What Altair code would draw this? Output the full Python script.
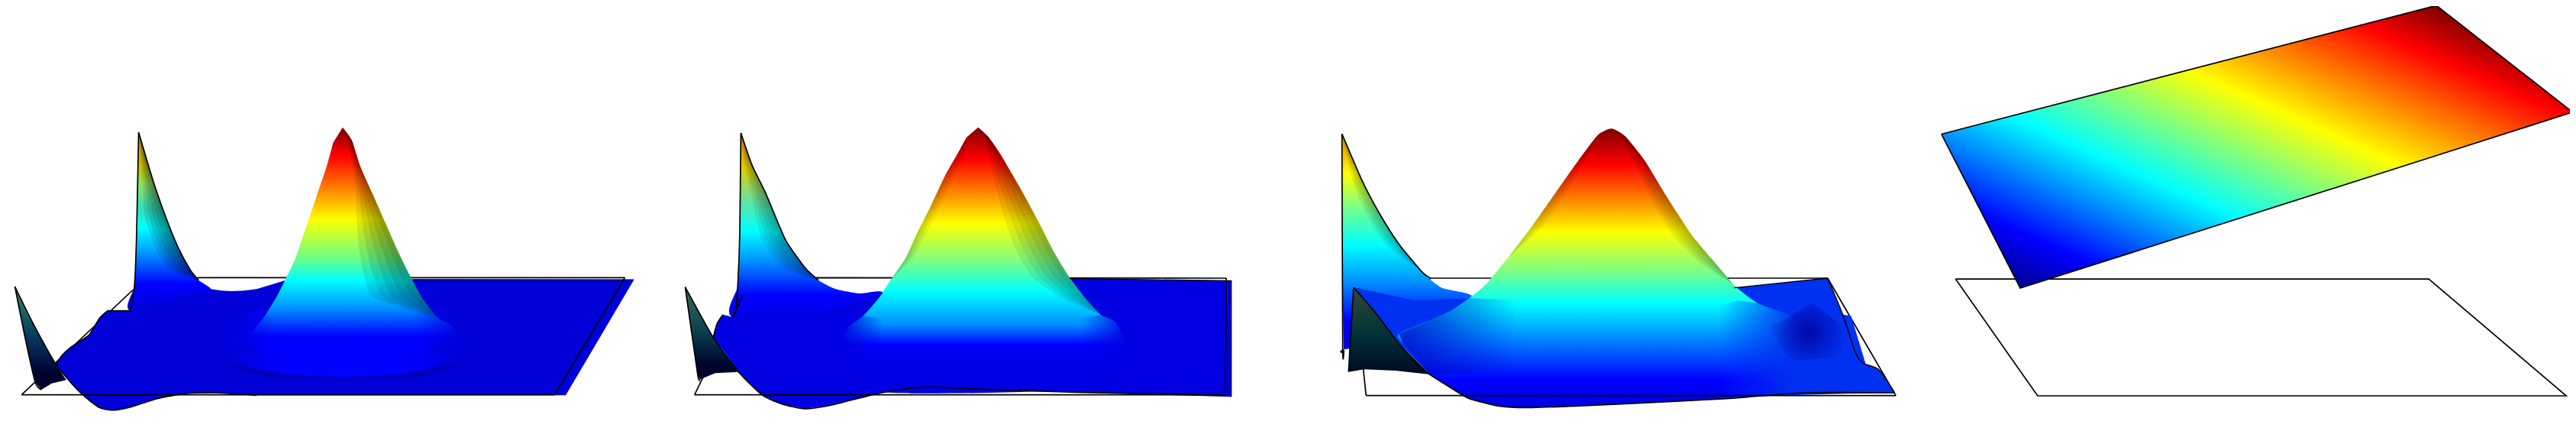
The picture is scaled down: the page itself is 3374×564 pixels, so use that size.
import altair as alt
import pandas as pd

# ---- readings from the picture: (x, y) in each panel's reading frame ----
FRAMES = {1: (0, 1.845, 140, 3.0), 2: (850, 1.96, 140, 3.0), 3: (1700, 1.96, 140, 3.0), 4: (2500, 1.794, 0, 2.78)}

# Panel 1
P1_FRAME_BACK = [(52,1130),(320,720),(480,670),(1510,670)]
P1_FRAME_FRONT = [(1510,670),(1340,1130),(52,1130)]
P1_BACK = [(335,100),(370,290),(400,430),(430,550),(460,640),(480,680),(510,715),(520,800),(315,800),(325,700),(330,500)]
P1_SHEET = [(260,800),(315,800),(450,740),(510,715),(535,721),(560,723),(590,721),(620,715),(660,695),(690,680),(1000,676),(1532,678),(1367,1132),(620,1132),(570,1126),(520,1122),(450,1125),(410,1134),(380,1145),(345,1165),(310,1180),(270,1190),(240,1180),(218,1158),(200,1130),(170,1080),(135,1010),(150,975),(170,945),(215,895),(240,830)]
P1_WEDGE = [(36,705),(80,850),(135,1010),(160,1072),(125,1085),(100,1110),(85,1080),(60,900)]
P1_RING = [(500,990),(650,1010),(830,1015),(1000,1010),(1150,990),(1000,1070),(830,1085),(650,1070)]
P1_SKIRT = [(830,760),(1050,800),(1150,920),(1040,1030),(830,1060),(620,1030),(510,920),(620,800)]
P1_MAIN = [(828,80),(850,130),(870,230),(900,340),(930,450),(960,560),(990,660),(1020,750),(1060,830),(1090,855),(1100,900),(1000,965),(830,995),(650,960),(570,920),(610,880),(640,820),(670,740),(695,660),(715,590),(740,470),(765,350),(790,230),(805,140)]
P1_MAIN_EDGE = [(828,80),(850,130),(870,230),(900,340),(930,450),(960,560),(990,660),(1020,750),(1060,830)]
P1_MAIN_INNER = [(828,80),(840,130),(852,230),(860,340),(862,450),(868,560),(880,660),(905,750),(1060,830)]
P1_BACK_EDGE = [(335,100),(370,290),(400,430),(430,550),(460,640),(480,680)]
P1_BACK_INNER = [(335,100),(345,290),(350,430),(375,550),(410,640),(480,680)]
P1_FADE_L = [(500,1000),(500,880),(640,820),(660,830),(660,1000)]
P1_FADE_R = [(1170,980),(1170,860),(1060,830),(1020,800),(1000,800),(1000,980)]
P1_OUT_A = [(335,100),(370,290),(400,430),(430,550),(460,640),(480,680)]
P1_OUT_B = [(335,100),(330,500),(325,700),(315,800)]
P1_OUT_C = [(36,705),(80,850),(135,1010),(170,1080),(200,1130),(240,1180),(270,1190),(310,1180),(380,1145),(450,1125),(520,1122),(620,1132)]
P1_OUT_D = [(36,705),(60,900),(85,1080),(100,1110)]
P1_OUT_E = [(260,800),(240,830),(215,895),(170,945),(150,975),(135,1010)]
P1_OUT_E2 = [(315,800),(260,800)]
P1_OUT_F = [(1000,678),(1532,678)]

# Panel 2
P2_FRAME_BACK = [(117,1130),(240,740),(430,670),(1482,672)]
P2_FRAME_FRONT = [(1482,672),(1480,1130),(117,1130)]
P2_BACK = [(236,102),(265,230),(300,340),(350,520),(400,630),(435,680),(480,715),(540,732),(600,727),(620,830),(222,830),(228,700),(233,500)]
P2_SHEET = [(190,815),(215,825),(400,830),(600,727),(1080,672),(1495,682),(1495,1138),(1100,1120),(860,1108),(720,1100),(640,1110),(600,1122),(560,1135),(510,1155),(470,1170),(400,1185),(340,1165),(290,1130),(260,1085),(230,1040),(195,965),(165,905),(175,850)]
P2_WEDGE = [(93,707),(165,905),(230,1040),(170,1045),(130,1070),(125,1050)]
P2_MAIN = [(845,80),(870,115),(900,180),(950,310),(1000,450),(1040,570),(1080,670),(1120,750),(1160,815),(1200,850),(1230,1000),(1100,1108),(600,1120),(480,1000),(510,870),(550,820),(590,750),(620,680),(660,590),(690,490),(720,400),(760,270),(790,190),(815,120)]
P2_MAIN_EDGE = [(845,80),(870,115),(900,180),(950,310),(1000,450),(1040,570),(1080,670),(1120,750),(1160,815)]
P2_MAIN_INNER = [(845,80),(860,115),(870,180),(890,310),(915,450),(945,570),(985,670),(1060,750),(1160,815)]
P2_BACK_EDGE = [(236,102),(265,230),(300,340),(350,520),(400,630),(435,680)]
P2_BACK_INNER = [(236,102),(245,230),(262,340),(290,520),(340,630),(435,680)]
P2_LEFT_EDGE = [(815,120),(790,190),(760,270),(720,400),(690,490),(660,590),(620,680)]
P2_LEFT_INNER = [(815,120),(812,190),(785,270),(745,400),(715,490),(680,590),(620,680)]
P2_FADE_L = [(420,1110),(420,880),(550,820),(600,830),(600,1110)]
P2_FADE_R = [(1310,1110),(1310,880),(1160,815),(1110,830),(1110,1110)]
P2_OUT_A = [(236,102),(265,230),(300,340),(350,520),(400,630),(435,680)]
P2_OUT_B = [(236,102),(233,500),(228,700),(222,800),(215,825)]
P2_OUT_C = [(93,707),(165,905),(230,1040),(290,1130),(340,1165),(400,1185),(470,1170),(560,1135),(640,1110),(720,1100),(860,1108),(1100,1120),(1480,1132)]
P2_OUT_D = [(93,707),(125,1050),(130,1070)]
P2_OUT_E = [(240,740),(215,825)]
P2_OUT_F = [(190,815),(175,850),(165,905)]
P2_OUT_G = [(1080,674),(1495,682),(1495,1138)]

# Panel 3
P3_FRAME_BACK = [(175,1133),(168,1030),(340,672),(1360,672)]
P3_FRAME_FRONT = [(1535,1133),(175,1133)]
P3_FRAME_SIDE = [(1360,672),(1535,1133)]
P3_BACK = [(113,105),(165,290),(210,420),(260,540),(320,650),(370,710),(450,745),(460,900),(125,950),(118,955),(115,700)]
P3_SHEET = [(143,708),(300,760),(1120,710),(1360,672),(1400,820),(1430,960),(1450,1005),(1490,1030),(1532,1122),(1300,1122),(1100,1145),(800,1168),(600,1180),(520,1175),(440,1145),(390,1100),(340,1050),(260,930),(200,810)]
P3_WEDGE = [(143,708),(200,810),(260,930),(340,1050),(250,1035),(170,1030),(130,1040),(135,910)]
P3_MAIN = [(1300,1122),(800,1168),(600,1180),(520,1175),(440,1145),(390,1100),(340,1050),(270,930),(260,890),(380,810),(440,750),(480,700),(540,590),(600,470),(660,340),(720,210),(770,110),(805,85),(840,115),(890,210),(950,360),(1010,500),(1070,610),(1120,700),(1180,770),(1280,830),(1420,1000)]
P3_MAIN_EDGE = [(805,85),(840,115),(890,210),(950,360),(1010,500),(1070,610),(1120,700)]
P3_MAIN_INNER = [(805,85),(830,115),(860,210),(905,360),(960,500),(1030,610),(1120,700)]
P3_BACK_EDGE = [(113,105),(165,290),(210,420),(260,540),(320,650)]
P3_BACK_INNER = [(113,105),(140,290),(175,420),(225,540),(320,650)]
P3_LEFT_EDGE = [(770,110),(720,210),(660,340),(600,470),(540,590)]
P3_LEFT_INNER = [(770,110),(740,210),(690,340),(630,470),(540,590)]
P3_FADE_R = [(1480,1122),(1420,820),(1180,770),(1130,760),(1080,780),(1080,1140)]
P3_FADE_L = [(270,930),(260,890),(380,810),(440,750),(560,760),(560,1040),(340,1050)]
P3_DARK = [(1320,770),(1395,860),(1405,970),(1270,990),(1210,870)]
P3_OUT_A = [(113,105),(165,290),(210,420),(260,540),(320,650),(340,672)]
P3_OUT_B = [(113,105),(115,950),(118,955)]
P3_OUT_C = [(143,708),(200,810),(260,930),(320,1030),(390,1100),(440,1145),(520,1175),(600,1180),(800,1168),(1100,1145),(1300,1122),(1532,1122)]
P3_OUT_D = [(143,708),(135,910),(130,1040)]
P3_OUT_E = [(1120,710),(1360,672)]
P3_OUT_E2 = [(1360,672),(1400,820),(1430,960),(1450,1005),(1490,1030),(1532,1122)]

# Panel 4
P4_FRAME = [(110,1015),(1222,1015),(1545,1440),(303,1440),(110,1015)]
P4_PLANE = [(77,488),(1240,20),(1560,408),(262,1048)]
P4_OUT = [(77,488),(1240,20),(1560,408),(262,1048),(77,488)]
P4_STOPS = [(0.0625,"#000090"),(0.16,"#0000ff"),(0.36,"#00ffff"),(0.58,"#ffff00"),(0.80,"#ff0000"),(0.89,"#800000")]

# colours read against the same y frame as each panel
P1_MAIN_COL = [(80,"#800000"),(190,"#ff0000"),(320,"#ff8000"),(440,"#ffff00"),(590,"#70ff80"),(680,"#00ffff"),(790,"#0090ff"),(900,"#0000ff"),(990,"rgba(0,0,255,0)")]
P1_BACK_COL = [(100,"#e08000"),(230,"#c8c000"),(300,"#90e060"),(400,"#30e0c0"),(470,"#00ffff"),(560,"#00a0ff"),(690,"#0000ff"),(800,"#0000d8")]
P1_WEDGE_COL = [(705,"#3c8a60"),(900,"#063a60"),(1050,"#000030"),(1110,"#000020")]
P2_MAIN_COL = [(80,"#800000"),(205,"#ff0000"),(330,"#ff8000"),(455,"#ffff00"),(600,"#80ff80"),(720,"#00ffff"),(850,"#0090ff"),(930,"#0000ff"),(1000,"#0000e8"),(1120,"#0000e0")]
P2_BACK_COL = [(102,"#e08000"),(240,"#e0d000"),(350,"#70e090"),(480,"#00ffff"),(600,"#0090ff"),(730,"#0000ff"),(830,"#0000e0")]
P2_WEDGE_COL = [(707,"#3c7058"),(880,"#0a4050"),(1000,"#000830"),(1070,"#000020")]
P3_MAIN_COL = [(85,"#800000"),(225,"#ff0000"),(360,"#ff8000"),(490,"#ffff00"),(640,"#80ff80"),(770,"#00ffff"),(900,"#0090ff"),(1070,"#0000ff"),(1180,"#0000e0")]
P3_BACK_COL = [(105,"#e08000"),(260,"#ffff00"),(400,"#70ff90"),(535,"#00ffff"),(680,"#0090ff"),(830,"#0000ff"),(950,"#0000d0")]
P3_WEDGE_COL = [(708,"#304a38"),(900,"#003038"),(1040,"#000c20")]
SHEET_P1 = "#0000d8"
SHEET_P2 = "#0000e0"
SHEET_P3 = "#0030f0"

W, H = 3358, 540
X = alt.X("x:Q", axis=None, scale=alt.Scale(domain=[8, 8 + W], nice=False, zero=False))
Y = alt.Y("y:Q", axis=None, scale=alt.Scale(domain=[8 + H, 8], nice=False, zero=False))


def frame(panel, pts):
    ox, sx, oy, sy = FRAMES[panel]
    return pd.DataFrame({"x": [ox + p[0] / sx for p in pts], "y": [oy + p[1] / sy for p in pts], "i": list(range(len(pts)))})


def vstops(pts, cols):
    lo, hi = min(p[1] for p in pts), max(p[1] for p in pts)
    out = [alt.GradientStop(offset=max(0.0, min(1.0, (yy - lo) / (hi - lo))), color=c) for yy, c in cols]
    return alt.LinearGradient(gradient="linear", x1=0, y1=0, x2=0, y2=1, stops=out)


def poly(panel, pts, paint, interp="cardinal"):
    return alt.Chart(frame(panel, pts)).mark_line(fill=paint, strokeWidth=0, strokeOpacity=0, interpolate=interp, tension=0.4).encode(X, Y, order="i:Q")


def stroke(panel, pts, w=1.7):
    return alt.Chart(frame(panel, pts)).mark_line(color="black", strokeWidth=w, interpolate="cardinal", tension=0.4).encode(X, Y, order="i:Q")


def straight(panel, pts, w=1.7):
    return alt.Chart(frame(panel, pts)).mark_line(color="black", strokeWidth=w, interpolate="linear").encode(X, Y, order="i:Q")


def facets(panel, edge, inner, alpha=0.09, n=5):
    """Nested strips between a flank outline and the line where its shading begins."""
    out = []
    for k in range(n):
        f = k / n
        back = [(a[0] * (1 - f) + b[0] * f, a[1] * (1 - f) + b[1] * f) for a, b in zip(inner, edge)]
        out.append(poly(panel, list(edge) + back[::-1], f"rgba(0,0,0,{alpha})"))
    return out


def hfade(color_rgb, to_right=True, a=1.0, hold=0.35):
    solid = f"rgba({color_rgb},{a})"
    clear = f"rgba({color_rgb},0)"
    if to_right:
        stops = [alt.GradientStop(offset=0, color=clear), alt.GradientStop(offset=1 - hold, color=solid), alt.GradientStop(offset=1, color=solid)]
    else:
        stops = [alt.GradientStop(offset=0, color=solid), alt.GradientStop(offset=hold, color=solid), alt.GradientStop(offset=1, color=clear)]
    return alt.LinearGradient(gradient="linear", x1=0, y1=0, x2=1, y2=0, stops=stops)


ring = alt.LinearGradient(gradient="linear", x1=0, y1=0, x2=0, y2=1, stops=[
    alt.GradientStop(offset=0.0, color="rgba(0,0,40,0)"),
    alt.GradientStop(offset=0.5, color="rgba(0,0,40,0.18)"),
    alt.GradientStop(offset=1.0, color="rgba(0,0,40,0)")])
skirt = alt.RadialGradient(gradient="radial", x1=0.5, y1=0.5, x2=0.5, y2=0.5, r1=0.0, r2=0.5, stops=[
    alt.GradientStop(offset=0.5, color="rgba(0,0,255,1)"),
    alt.GradientStop(offset=1.0, color="rgba(0,0,255,0)")])
dark_spot = alt.RadialGradient(gradient="radial", x1=0.5, y1=0.5, x2=0.5, y2=0.5, r1=0.0, r2=0.5, stops=[
    alt.GradientStop(offset=0.0, color="rgba(0,0,150,0.8)"),
    alt.GradientStop(offset=1.0, color="rgba(0,0,150,0)")])
plane_fill = alt.LinearGradient(gradient="linear", x1=0, y1=1, x2=1, y2=0,
                                stops=[alt.GradientStop(offset=o, color=c) for o, c in P4_STOPS])

layers = [
    # panel 1
    straight(1, P1_FRAME_BACK),
    poly(1, P1_BACK, vstops(P1_BACK, P1_BACK_COL)),
    *facets(1, P1_BACK_EDGE, P1_BACK_INNER, 0.1),
    poly(1, P1_SHEET, SHEET_P1, "linear"),
    poly(1, P1_WEDGE, vstops(P1_WEDGE, P1_WEDGE_COL), "linear"),
    poly(1, P1_RING, ring),
    poly(1, P1_SKIRT, skirt),
    poly(1, P1_MAIN, vstops(P1_MAIN, P1_MAIN_COL)),
    *facets(1, P1_MAIN_EDGE, P1_MAIN_INNER, 0.09),
    poly(1, P1_FADE_L, hfade("0,0,216", False, 0.8), "linear"),
    poly(1, P1_FADE_R, hfade("0,0,216", True, 0.8), "linear"),
    straight(1, P1_FRAME_FRONT),
    stroke(1, P1_OUT_A), stroke(1, P1_OUT_B), stroke(1, P1_OUT_C), stroke(1, P1_OUT_D),
    stroke(1, P1_OUT_E), straight(1, P1_OUT_E2), straight(1, P1_OUT_F, 1.2),
    # panel 2
    straight(2, P2_FRAME_BACK),
    poly(2, P2_BACK, vstops(P2_BACK, P2_BACK_COL)),
    *facets(2, P2_BACK_EDGE, P2_BACK_INNER, 0.07),
    poly(2, P2_SHEET, SHEET_P2, "linear"),
    poly(2, P2_WEDGE, vstops(P2_WEDGE, P2_WEDGE_COL), "linear"),
    poly(2, P2_MAIN, vstops(P2_MAIN, P2_MAIN_COL)),
    *facets(2, P2_MAIN_EDGE, P2_MAIN_INNER, 0.07),
    *facets(2, P2_LEFT_EDGE, P2_LEFT_INNER, 0.04),
    poly(2, P2_FADE_L, hfade("0,0,224", False), "linear"),
    poly(2, P2_FADE_R, hfade("0,0,224", True), "linear"),
    straight(2, P2_FRAME_FRONT),
    stroke(2, P2_OUT_A), stroke(2, P2_OUT_B), stroke(2, P2_OUT_C), stroke(2, P2_OUT_D),
    straight(2, P2_OUT_E), stroke(2, P2_OUT_F), straight(2, P2_OUT_G, 1.2),
    # panel 3
    straight(3, P3_FRAME_BACK),
    straight(3, P3_FRAME_SIDE),
    poly(3, P3_BACK, vstops(P3_BACK, P3_BACK_COL)),
    *facets(3, P3_BACK_EDGE, P3_BACK_INNER, 0.06),
    poly(3, P3_SHEET, SHEET_P3, "linear"),
    poly(3, P3_WEDGE, vstops(P3_WEDGE, P3_WEDGE_COL), "linear"),
    poly(3, P3_MAIN, vstops(P3_MAIN, P3_MAIN_COL)),
    poly(3, P3_FADE_R, hfade("0,48,240", True, 1.0, 0.5), "linear"),
    poly(3, P3_FADE_L, hfade("0,0,200", False, 0.7, 0.1), "linear"),
    poly(3, P3_DARK, dark_spot),
    *facets(3, P3_MAIN_EDGE, P3_MAIN_INNER, 0.06),
    *facets(3, P3_LEFT_EDGE, P3_LEFT_INNER, 0.04),
    straight(3, P3_FRAME_FRONT),
    stroke(3, P3_OUT_A), stroke(3, P3_OUT_B), stroke(3, P3_OUT_C), stroke(3, P3_OUT_D),
    straight(3, P3_OUT_E, 1.4), stroke(3, P3_OUT_E2, 1.4),
    # panel 4
    straight(4, P4_FRAME),
    poly(4, P4_PLANE, plane_fill, "linear"),
    straight(4, P4_OUT),
]

chart = alt.layer(*layers).properties(
    width=W, height=H, padding=0, autosize=alt.AutoSizeParams(type="none"), background="white"
).configure_view(stroke=None)

chart.save("out.html", embed_options={"renderer": "svg", "actions": False})
